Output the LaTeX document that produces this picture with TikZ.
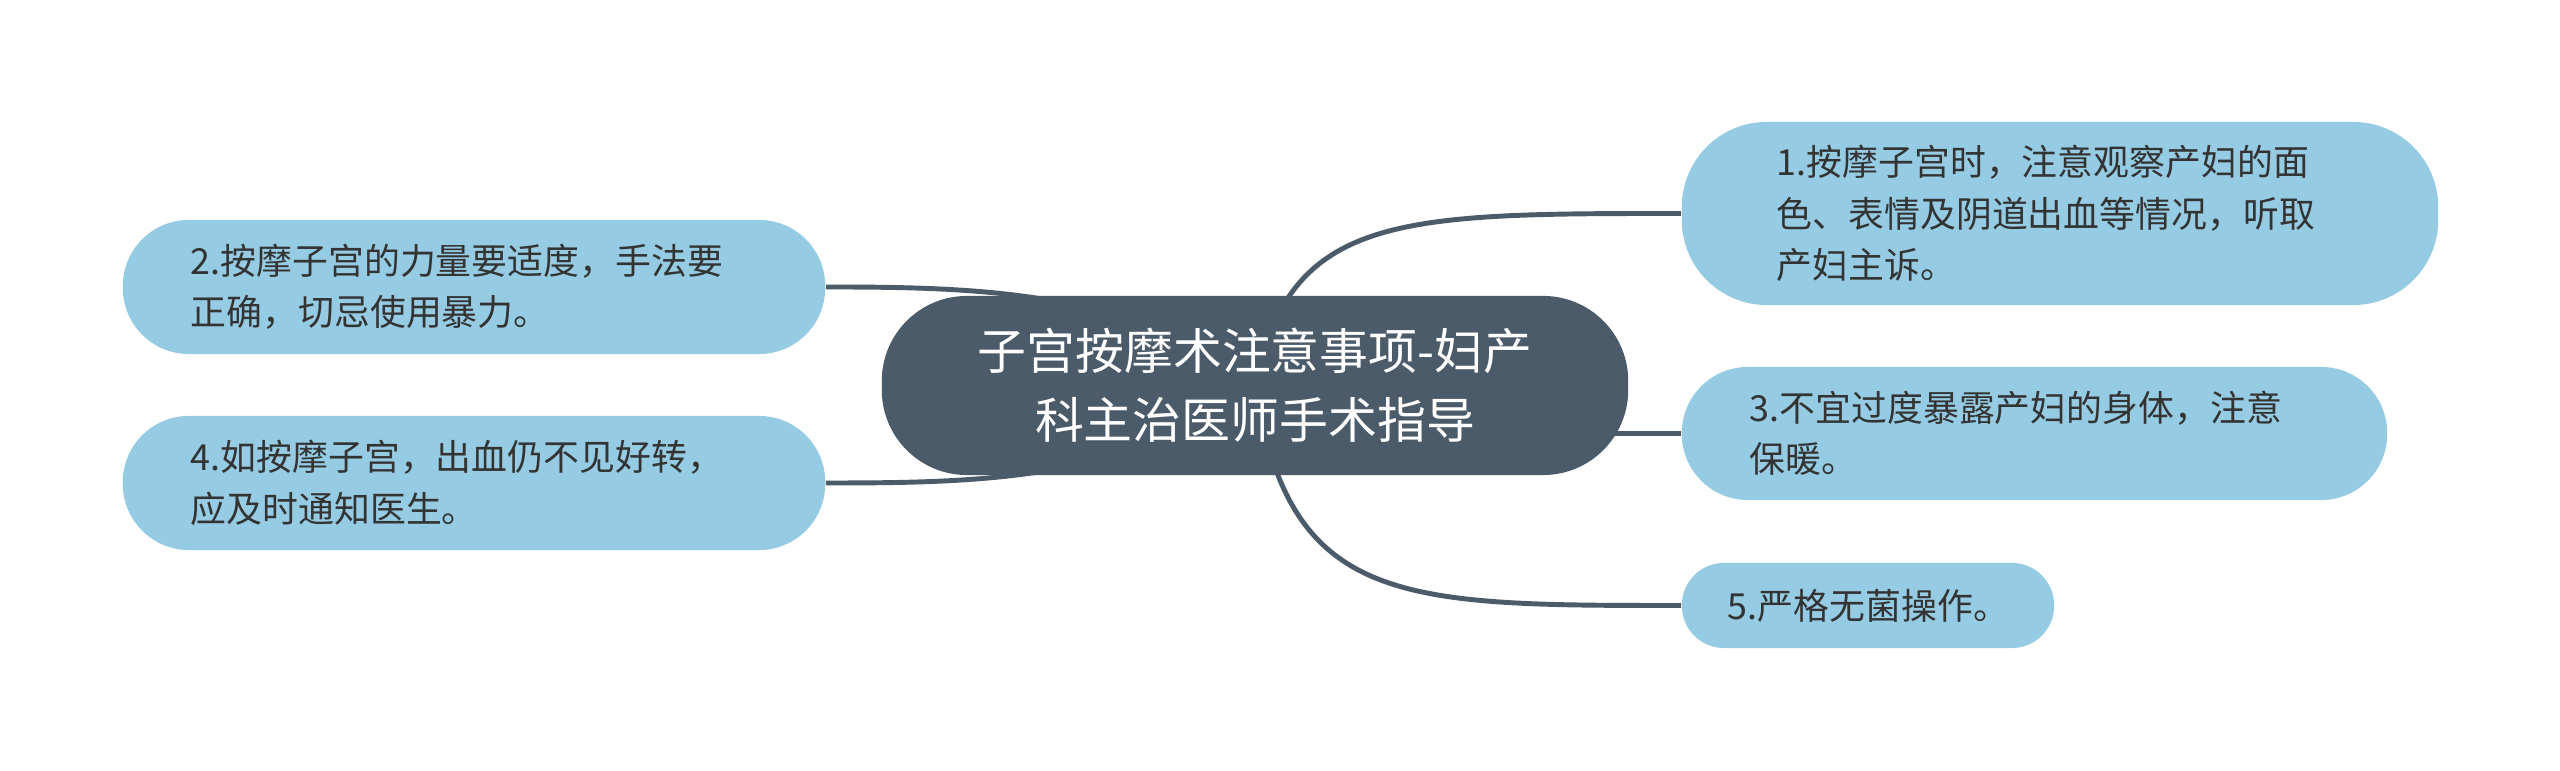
\documentclass[tikz,border=0pt]{standalone}
\usepackage{fontspec}
\newfontfamily\cjk{Noto Sans CJK SC}
\usetikzlibrary{backgrounds}
\definecolor{rootfill}{HTML}{4B5B6A}
\definecolor{leaffill}{HTML}{95CBE3}
\definecolor{leaftext}{HTML}{333333}

\begin{document}
\begin{tikzpicture}[x=0.01cm,y=-0.01cm,
    topic/.style ={rectangle, rounded corners=0.85cm, fill=rootfill, text=white, align=center, inner sep=0pt,
      minimum width=7.46cm, minimum height=1.79cm, font=\cjk\fontsize{13.9pt}{19.6pt}\selectfont},
    subtopic/.style ={rectangle, fill=leaffill, text=leaftext, align=left, inner ysep=0pt,
      font=\cjk\fontsize{10.2pt}{14.6pt}\selectfont},
    branch/.style ={draw=rootfill, line width=1.4pt}]
   \useasboundingbox (0,0) rectangle (2560,771);
   \node[topic] (root) at (1255,385.5) {子宫按摩术注意事项-妇产\\科主治医师手术指导};
   \node[subtopic, rounded corners=0.85cm, text width=5.66cm, inner xsep=0.95cm, minimum height=1.83cm] (n1) at (2060,213.5)
     {1.按摩子宫时，注意观察产妇的面\\色、表情及阴道出血等情况，听取\\产妇主诉。};
   \node[subtopic, rounded corners=0.66cm, text width=5.66cm, inner xsep=0.68cm, minimum height=1.34cm] (n2) at (474,287)
     {2.按摩子宫的力量要适度，手法要\\正确，切忌使用暴力。};
   \node[subtopic, rounded corners=0.66cm, text width=5.69cm, inner xsep=0.68cm, minimum height=1.33cm] (n3) at (2034.5,433.5)
     {3.不宜过度暴露产妇的身体，注意\\保暖。};
   \node[subtopic, rounded corners=0.66cm, text width=5.66cm, inner xsep=0.68cm, minimum height=1.34cm] (n4) at (474,483)
     {4.如按摩子宫，出血仍不见好转，\\应及时通知医生。};
   \node[subtopic, rounded corners=0.42cm, text width=2.80cm, inner xsep=0.46cm, minimum height=0.85cm] (n5) at (1868,605.5)
     {5.严格无菌操作。};
   \begin{scope}[on background layer]
     \draw[branch] (root.center) .. controls +(35,-172) and +(-282,0) .. (n1.west);
     \draw[branch] (root.center) .. controls +(-125,-95) and +(155,0) .. (n2.east);
     \draw[branch] (root.center) .. controls +(35,48) and +(-282,0) .. (n3.west);
     \draw[branch] (root.center) .. controls +(-125,95) and +(155,0) .. (n4.east);
     \draw[branch] (root.center) .. controls +(35,220) and +(-282,0) .. (n5.west);
   \end{scope}
 \end{tikzpicture}
\end{document}
